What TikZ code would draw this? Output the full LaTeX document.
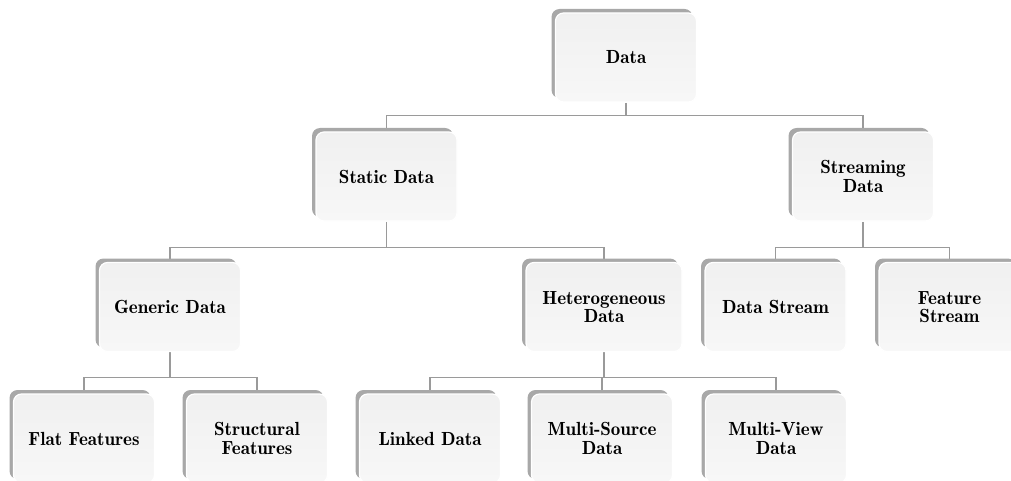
\documentclass[tikz,border=0pt]{standalone}
\usepackage{fontspec}
\newfontfamily\demifont{Latin Modern Roman Demi}
\usetikzlibrary{shadows,backgrounds}
\definecolor{boxfill}{HTML}{F2F2F2}
\definecolor{boxshade}{HTML}{A8A8A8}
\definecolor{linkgray}{HTML}{9A9A9A}
\tikzset{
  catbox/.style={
    rectangle, rounded corners=8pt, draw=white, line width=1.2pt,
    top color=boxfill!90!gray!60, bottom color=boxfill!60!white,
    minimum width=141pt, minimum height=89pt, align=center,
    font=\demifont\fontsize{19}{18.5}\selectfont, inner sep=2pt,
    general shadow={fill=boxshade, shadow xshift=-4pt, shadow yshift=4pt}
  },
  widebox/.style={catbox, minimum width=156pt},
  link/.style={draw=linkgray, line width=1.1pt}
}
\begin{document}
\begin{tikzpicture}[x=1pt, y=-1pt]
  \useasboundingbox (0,0) rectangle (1011,481);

  % level 0
  \node[catbox] (data) at (626,57.5) {Data};
  % level 1
  \node[catbox] (static) at (386.5,176.5) {Static Data};
  \node[catbox] (stream) at (863,176.5) {Streaming\\Data};
  % level 2
  \node[catbox]  (generic) at (170,307) {Generic Data};
  \node[widebox] (hetero)  at (604,307) {Heterogeneous\\Data};
  \node[catbox]  (dstream) at (775.5,307) {Data Stream};
  \node[catbox]  (fstream) at (949.5,307) {Feature\\Stream};
  % level 3
  \node[catbox] (flat)   at (84,438.5)  {Flat Features};
  \node[catbox] (struct) at (257,438.5) {Structural\\Features};
  \node[catbox] (linked) at (430,438.5) {Linked Data};
  \node[catbox] (msrc)   at (602,438.5) {Multi-Source\\Data};
  \node[catbox] (mview)  at (776,438.5) {Multi-View\\Data};

  % tree connectors, kept behind the boxes
  \begin{pgfonlayer}{background}
    \coordinate (b0) at ([yshift=-13pt]data.south);
    \draw[link] (data.south) -- (b0);
    \draw[link] (b0) -| (static.north);
    \draw[link] (b0) -| (stream.north);

    \coordinate (b1) at ([yshift=-26pt]static.south);
    \draw[link] (static.south) -- (b1);
    \draw[link] (b1) -| (generic.north);
    \draw[link] (b1) -| (hetero.north);

    \coordinate (b2) at ([yshift=-26pt]stream.south);
    \draw[link] (stream.south) -- (b2);
    \draw[link] (b2) -| (dstream.north);
    \draw[link] (b2) -| (fstream.north);

    \coordinate (b3) at ([yshift=-25pt]generic.south);
    \draw[link] (generic.south) -- (b3);
    \draw[link] (b3) -| (flat.north);
    \draw[link] (b3) -| (struct.north);

    \coordinate (b4) at ([yshift=-25pt]hetero.south);
    \draw[link] (hetero.south) -- (b4);
    \draw[link] (b4) -| (linked.north);
    \draw[link] (b4) -| (msrc.north);
    \draw[link] (b4) -| (mview.north);
  \end{pgfonlayer}
\end{tikzpicture}
\end{document}
